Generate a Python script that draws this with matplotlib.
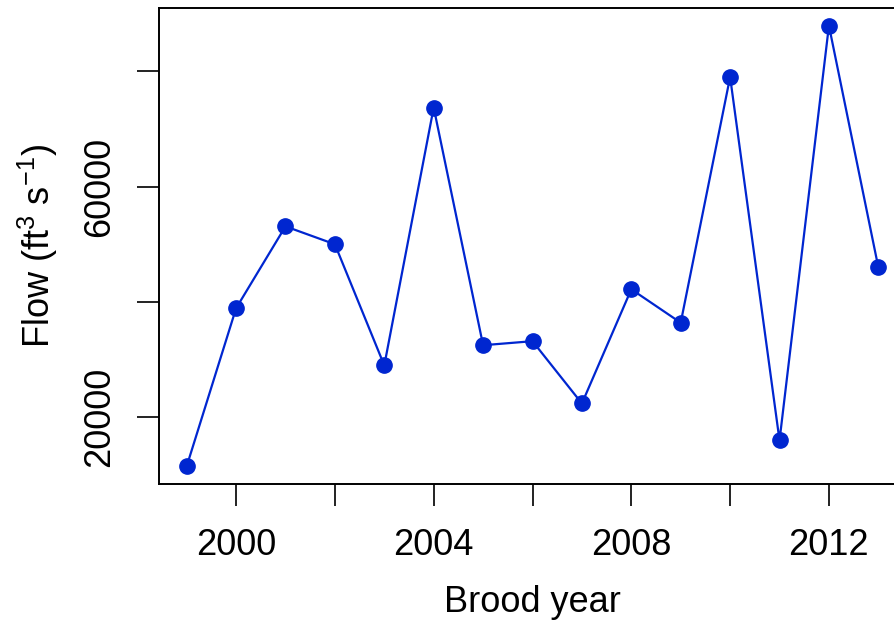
import matplotlib
matplotlib.use("Agg")
import matplotlib.pyplot as plt

years = list(range(1999, 2014))
flow = [11500, 38900, 53100, 50000, 29000, 73700, 32500, 33200,
        22400, 42200, 36400, 79000, 16000, 87900, 46000]

xticks = list(range(2000, 2013, 2))
xlabels = ["2000", "", "2004", "", "2008", "", "2012"]
yticks = [20000, 40000, 60000, 80000]
ylabels = ["20000", "", "60000", ""]

plt.rcParams["font.family"] = ["Liberation Sans", "DejaVu Sans"]
plt.rcParams["mathtext.fontset"] = "custom"
plt.rcParams["mathtext.rm"] = "Liberation Sans"
plt.rcParams["mathtext.it"] = "Liberation Sans"

fig = plt.figure(figsize=(8.94, 6.23), dpi=100)
ax = fig.add_axes([159 / 894, 139 / 623, 747 / 894, 476 / 623])

ax.plot(years, flow, color="#0026D0", lw=1.6, marker="o", ms=11,
        clip_on=False)

lo, hi = min(flow), max(flow)
pad = (hi - lo) * 0.04
ax.set_ylim(lo - pad, hi + pad)
ax.set_xlim(1999 - 14 * 0.04, 2013 + 14 * 0.04)

ax.set_xticks(xticks)
ax.set_xticklabels(xlabels)
ax.set_yticks(yticks)
ax.set_yticklabels(ylabels, rotation=90, va="center")

ax.tick_params(axis="both", length=16, width=1.4, labelsize=26,
               direction="out", color="#222222")
ax.tick_params(axis="x", pad=16)
ax.tick_params(axis="y", pad=14)
for s in ax.spines.values():
    s.set_linewidth(1.4)

fig.text(532 / 894, 1 - 603 / 623, "Brood year", fontsize=26,
         ha="center", va="center")
fig.text(38 / 894, 1 - 246 / 623, r"Flow (ft$^3$ s$^{-1}$)", fontsize=26,
         ha="center", va="center", rotation=90)

fig.savefig("out.png", dpi=100)
